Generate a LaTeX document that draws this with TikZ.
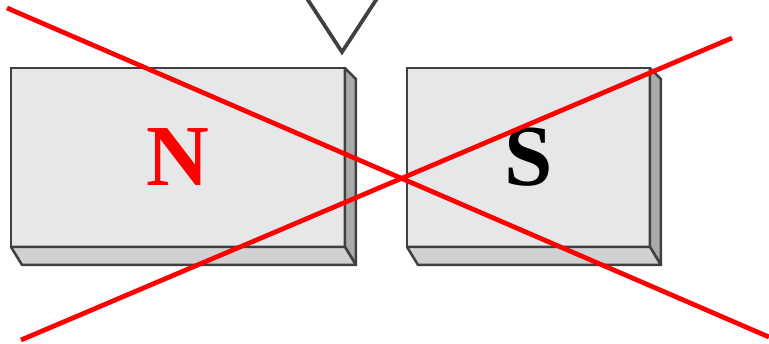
\documentclass[tikz,border=0pt]{standalone}
\usepackage{fontspec}
\setmainfont{Liberation Serif}
\usepackage{xcolor}
\usepackage{tikz}
\usetikzlibrary{calc}
\definecolor{facegray}{RGB}{230, 231, 233}
\definecolor{sidegray}{RGB}{168, 170, 172}
\definecolor{basegray}{RGB}{208, 209, 211}
\definecolor{edgegray}{RGB}{64, 64, 64}
\definecolor{crossred}{RGB}{255, 0, 0}

\begin{document}
\begin{tikzpicture}[
        x=0.02cm, y=-0.02cm,
        pole/.style = {draw=edgegray, line width=0.05cm, fill=facegray, rectangle, minimum height=3.58cm, inner sep=0pt, outer sep=0pt, font=\fontsize{49.5}{50}\selectfont\bfseries},
        rside/.style = {draw=edgegray, line width=0.05cm, fill=sidegray, line join=round},
        bside/.style = {draw=edgegray, line width=0.05cm, fill=basegray, line join=round},
        vee/.style = {draw=edgegray, line width=0.075cm},
        cross/.style = {draw=crossred, line width=0.095cm}
    ]
        \useasboundingbox (0,0) rectangle (769,344);

        % Nodes
        \node [pole, minimum width=6.68cm, text=crossred] (nface) at (178,157.5) {N};
        \node [pole, minimum width=4.86cm] (sface) at (528.5,157.5) {\raisebox{-0.1cm}{S}};
        \coordinate (vleft) at (306,-3);
        \coordinate (vtip) at (342,52);
        \coordinate (vright) at (378,-3);
        \coordinate (aup) at (7,8);
        \coordinate (adown) at (769,337);
        \coordinate (bdown) at (21,340);
        \coordinate (bup) at (732,38);

        % Sides
        \foreach \m in {nface, sface} {
            \draw [rside] (\m.north east) -- ++(11,11) -- ($(\m.south east)+(11,18)$) -- (\m.south east) -- cycle;
            \draw [bside] (\m.south west) -- (\m.south east) -- ++(11,18) -- ($(\m.south west)+(11,18)$) -- cycle;
        }

        % Connectors
        \draw [vee] (vleft) -- (vtip) -- (vright);
        \draw [cross] (aup) -- (adown);
        \draw [cross] (bdown) -- (bup);
    \end{tikzpicture}
\end{document}
